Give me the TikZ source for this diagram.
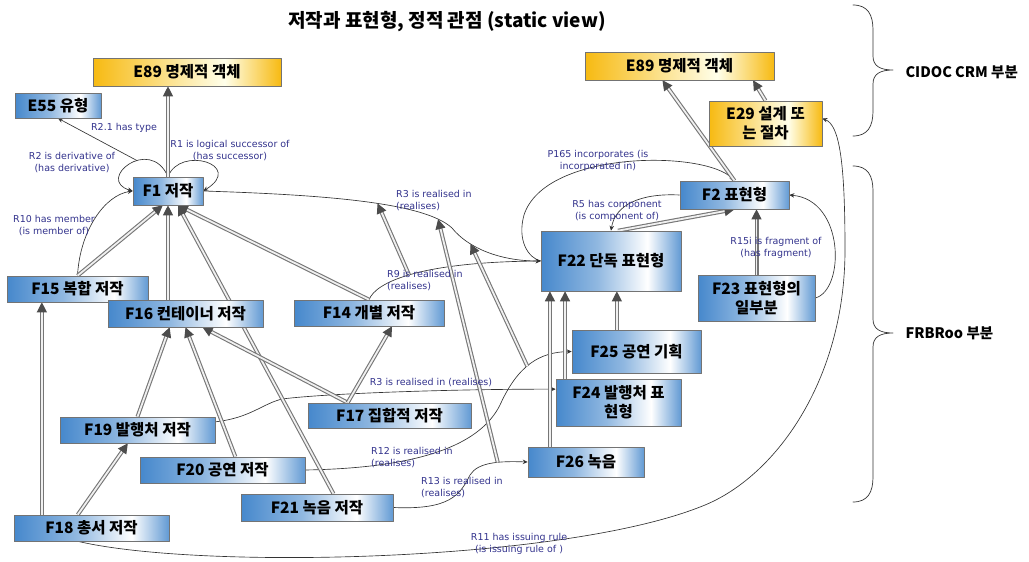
\documentclass[tikz,border=0pt]{standalone}
\usepackage{fontspec}
\setmainfont{Noto Sans CJK KR}
\newfontfamily\labfont{DejaVu Sans}
\usetikzlibrary{arrows.meta,backgrounds,shadows}
\definecolor{boxblue}{RGB}{70,136,204}
\definecolor{boxgold}{RGB}{247,186,18}
\definecolor{labblue}{RGB}{50,50,140}
\definecolor{isagray}{RGB}{118,118,118}
\pgfdeclarehorizontalshading{blueshade}{100bp}{color(0bp)=(boxblue); color(25bp)=(boxblue); color(45bp)=(boxblue!60); color(63bp)=(white); color(75bp)=(boxblue!85); color(100bp)=(boxblue!85)}
\pgfdeclarehorizontalshading{goldshade}{100bp}{color(0bp)=(boxgold); color(25bp)=(boxgold); color(60bp)=(yellow!8); color(75bp)=(boxgold); color(100bp)=(boxgold)}
\tikzset{
 box/.style={draw=black!55, line width=0.6pt, shading=blueshade, shade, align=center, inner sep=1pt,
  font=\bfseries\fontsize{15.5}{19}\selectfont, drop shadow={shadow xshift=1.2pt, shadow yshift=-1.2pt, fill=black!45}},
 gbox/.style={box, shading=goldshade},
 isa/.style={draw=isagray, double=black!6, double distance=1.8pt, line width=1.1pt,
  -{Triangle[length=10pt, width=10pt, fill=black!70, color=black!70]}},
 prop/.style={draw=black!80, line width=0.65pt, -{Stealth[length=5pt, width=4.5pt]}},
 plab/.style={font=\labfont\fontsize{9.5}{12}\selectfont, text=labblue, inner sep=0pt, align=center},
}
\begin{document}
\begin{tikzpicture}[x=1pt, y=-1pt, line join=round, line cap=round]
 \useasboundingbox (0,0) rectangle (1029,562);
 \node[font=\bfseries\fontsize{19}{22}\selectfont] (title) at (447,22) {저작과 표현형, 정적 관점 (static view)};
 % CIDOC CRM classes
 \node[gbox, minimum width=188, minimum height=28] (e89a) at (187,72) {E89 명제적 객체};
 \node[gbox, minimum width=189, minimum height=28] (e89b) at (679.5,66) {E89 명제적 객체};
 \node[gbox, minimum width=113, minimum height=45] (e29) at (765.5,123.5) {E29 설계 또\\는 절차};
 \node[box, minimum width=86, minimum height=25] (e55) at (58,105.5) {E55 유형};
 % works
 \node[box, minimum width=70, minimum height=28] (f1) at (168,191) {F1 저작};
 \node[box, minimum width=141, minimum height=26] (f15) at (77.5,289) {F15 복합 저작};
 \node[box, minimum width=155, minimum height=27] (f16) at (185.5,313.5) {F16 컨테이너 저작};
 \node[box, minimum width=150, minimum height=26] (f14) at (369,313) {F14 개별 저작};
 \node[box, minimum width=163, minimum height=25] (f17) at (389.5,415.5) {F17 집합적 저작};
 \node[box, minimum width=155, minimum height=26] (f19) at (137.5,430) {F19 발행처 저작};
 \node[box, minimum width=165, minimum height=26] (f20) at (222.5,470) {F20 공연 저작};
 \node[box, minimum width=152, minimum height=27] (f21) at (317,507.5) {F21 녹음 저작};
 \node[box, minimum width=155, minimum height=26] (f18) at (91.5,528) {F18 총서 저작};
 % expressions
 \node[box, minimum width=109, minimum height=28] (f2) at (734.5,195) {F2 표현형};
 \node[box, minimum width=140, minimum height=60] (f22) at (611,261) {F22 단독 표현형};
 \node[box, minimum width=117, minimum height=46] (f23) at (756.5,298) {F23 표현형의\\일부분};
 \node[box, minimum width=129, minimum height=43] (f25) at (636.5,351.5) {F25 공연 기획};
 \node[box, minimum width=125, minimum height=47] (f24) at (618.5,402.5) {F24 발행처 표\\현형};
 \node[box, minimum width=116, minimum height=30] (f26) at (586,462) {F26 녹음};
 % property labels
 \node[plab] (lr21) at (124,128) {R2.1 has type};
 \node[plab] (lr2) at (72,163) {R2 is derivative of\\(has derivative)};
 \node[plab] (lr1) at (230,151) {R1 is logical successor of\\(has successor)};
 \node[plab] (lr10) at (54,226) {R10 has member\\(is member of)};
 \node[plab, anchor=west, align=left] (lr3a) at (396,201) {R3 is realised in\\(realises)};
 \node[plab, anchor=west, align=left] (lr9) at (387,281) {R9 is realised in\\(realises)};
 \node[plab] (lp165) at (598,161) {P165 incorporates (is\\incorporated in)};
 \node[plab] (lr5) at (617,211) {R5 has component\\(is component of)};
 \node[plab] (lr15) at (776,248) {R15i is fragment of\\(has fragment)};
 \node[plab] (lr3b) at (431,383) {R3 is realised in (realises)};
 \node[plab, anchor=west, align=left] (lr12) at (371,458) {R12 is realised in\\(realises)};
 \node[plab, anchor=west, align=left] (lr13) at (421,488) {R13 is realised in\\(realises)};
 \node[plab] (lr11) at (519,544) {R11 has issuing rule\\(is issuing rule of )};
 % braces
 \draw[black!80, line width=0.7pt] (853,5) .. controls (868,5) and (873,15) .. (873,30) -- (873,56)
   .. controls (873,66) and (880,70) .. (893,70) .. controls (880,70) and (873,74) .. (873,84)
   -- (873,111) .. controls (873,126) and (868,136) .. (853,136);
 \draw[black!80, line width=0.7pt] (853,166) .. controls (868,166) and (873,176) .. (873,191) -- (873,319)
   .. controls (873,329) and (880,333) .. (893,333) .. controls (880,333) and (873,337) .. (873,347)
   -- (873,477) .. controls (873,492) and (868,502) .. (853,502);
 \node[anchor=west, font=\bfseries\fontsize{14.5}{17}\selectfont] (crm) at (902,72) {CIDOC CRM 부분};
 \node[anchor=west, font=\bfseries\fontsize{14.5}{17}\selectfont] (frbr) at (902,333) {FRBRoo 부분};
 \begin{scope}[on background layer]
 % properties
 \draw[prop] (f1.north) .. controls (150,135) and (95,180) .. (f1.west) coordinate[pos=0.4] (r2t);
 \draw[prop] (r2t) -- (e55.south);
 \draw[prop] (f1.north) .. controls (180,145) and (245,165) .. (f1.east);
 \draw[prop] (f15.north) .. controls (80,230) and (105,195) .. (f1.west);
 \draw[prop] (f1.east) .. controls (330,195) and (425,203) .. (452,228) coordinate[pos=0.55] (r3a) coordinate[pos=0.87] (r3b)
   .. controls (468,248) and (500,261) .. (f22.west) coordinate[pos=0.3] (r3c);
 \draw[prop] (f14.north) .. controls (376,282) and (420,262) .. (f22.west) coordinate[pos=0.48] (r9s);
 \draw[prop] (f22.west) .. controls (528,258) and (517,240) .. (524,215) .. controls (545,150) and (705,150) .. (f2.north);
 \draw[prop] (f2.west) .. controls (640,193) and (615,205) .. (f22.north);
 \draw[prop] (f23.east) .. controls (845,290) and (845,200) .. (f2.east);
 \draw[prop] (f18.224) .. controls (200,570) and (560,562) .. (700,507) .. controls (775,479) and (845,380) .. (845,250)
   .. controls (845,165) and (840,125) .. (e29.5);
 \draw[prop] (f19.6) .. controls (250,418) and (262,404) .. (282,399) .. controls (330,393) and (460,389) .. (f24.168);
 \draw[prop] (f20.east) .. controls (420,468) and (480,445) .. (500,405) .. controls (518,365) and (540,352) .. (f25.west) coordinate[pos=0.45] (r12s);
 \draw[prop] (f21.east) .. controls (450,510) and (460,495) .. (470,475) .. controls (478,462) and (500,461) .. (f26.west) coordinate[pos=0.6] (r13s);
 % subclass and subproperty links
 \foreach \a/\b in {f1.north/f1.north|-e89a.south, f15.north/f1.250, f1|-f16.north/f1.south, f21.40/f1.305,
   f14.north/f1.305, f17.163/f16.321, f17.163/f14.330, f19.north/f16.221, f20.46/f16.south,
   f18.165/f18.165|-f15.south, f18.136/f19.234, f2.north/e89b.220, e29.north/e89b.349, f22.77/f2.south,
   f23.north/f23.north|-f2.south, f25.132/f25.132|-f22.south, f24.156/f24.156|-f22.south,
   f26.157/f26.157|-f22.south, r9s/r3a, r13s/r3b, r12s/r3c}
 \draw[isa] (\a) -- (\b);
 \end{scope}
\end{tikzpicture}
\end{document}
